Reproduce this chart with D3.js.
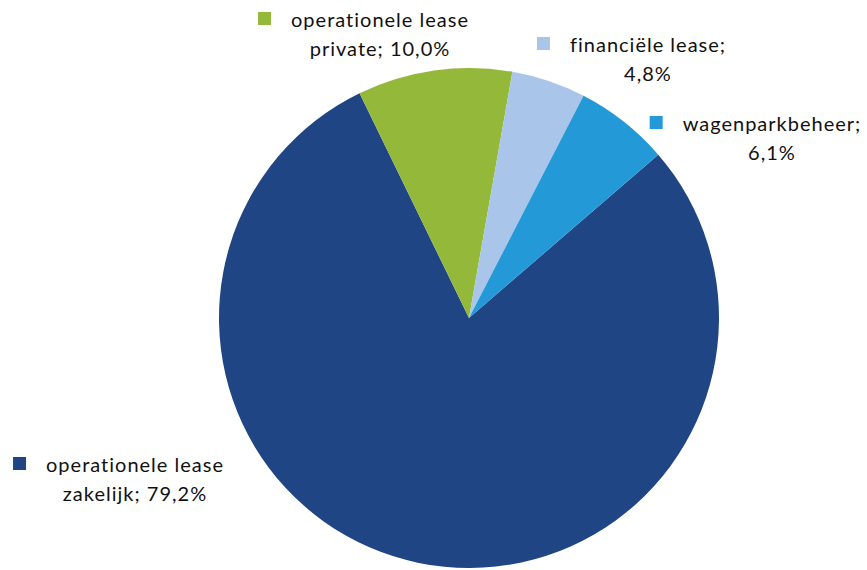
<!DOCTYPE html>
<html>
<head>
<meta charset="utf-8">
<script src="https://cdn.jsdelivr.net/npm/d3@7"></script>
<style>
  body { margin: 0; background: #fff; }
  svg text {
    font-family: Lato, "Open Sans", sans-serif;
    font-size: 20px;
    letter-spacing: 1px;
    font-variant-ligatures: none;
    fill: #111;
  }
</style>
</head>
<body>
<div id="chart"></div>
<script>
// chart data
var categories = ["operationele lease zakelijk", "operationele lease private", "financiële lease", "wagenparkbeheer"];
var values = [79.2, 10.0, 4.8, 6.1];
var colors = ["#1F4584", "#94B93A", "#A9C6EA", "#2499D8"];

// label lines as shown in the chart
var labelLines = [
    ["operationele lease", "zakelijk; 79,2%"],
    ["operationele lease", "private; 10,0%"],
    ["financiële lease;", "4,8%"],
    ["wagenparkbeheer;", "6,1%"]
];

var width = 867;
var height = 570;
var radius = 250;
var cx = 469, cy = 318;

// where each label block is centred (x of text, y of first line)
var labelPos = [[135, 472], [380, 27], [648, 52], [772, 131]];

var svg = d3.select("#chart")
    .append("svg")
    .attr("width", width)
    .attr("height", height);

var g = svg.append("g")
    .attr("transform", "translate(" + cx + "," + cy + ")");

var data = categories.map(function(c, i) { return { name: c, value: values[i], i: i }; });

// first slice starts at roughly 49 degrees, clockwise
var start = 49.2 * Math.PI / 180;
var pie = d3.pie()
    .sort(null)
    .value(function(d) { return d.value; })
    .startAngle(start)
    .endAngle(start + 2 * Math.PI);

var arc = d3.arc()
    .innerRadius(0)
    .outerRadius(radius);

g.selectAll(".slice")
    .data(pie(data))
    .enter()
    .append("path")
    .attr("class", "slice")
    .attr("d", arc)
    .attr("fill", function(d) { return colors[d.data.i]; });

// labels with legend keys
var labels = svg.selectAll(".lbl")
    .data(data)
    .enter()
    .append("g")
    .attr("class", "lbl");

labels.each(function(d) {
    var el = d3.select(this);
    var p = labelPos[d.i];
    var lines = labelLines[d.i];
    var t1 = el.append("text")
        .attr("x", p[0])
        .attr("y", p[1])
        .attr("text-anchor", "middle")
        .text(lines[0]);
    el.append("text")
        .attr("x", p[0])
        .attr("y", p[1] + 29)
        .attr("text-anchor", "middle")
        .text(lines[1]);
    var w = t1.node().getComputedTextLength();
    el.append("rect")
        .attr("x", p[0] - w / 2 - 33)
        .attr("y", p[1] - 15)
        .attr("width", 13)
        .attr("height", 13)
        .attr("fill", colors[d.i]);
});
</script>
</body>
</html>
